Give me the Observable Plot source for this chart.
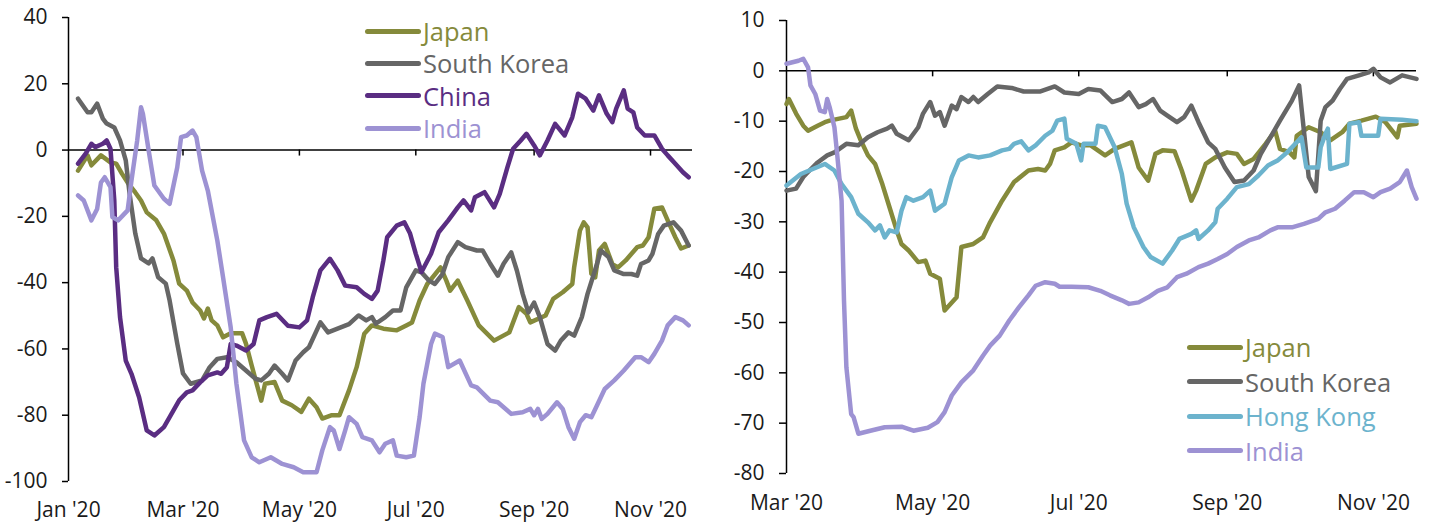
<!DOCTYPE html>
<html><head><meta charset="utf-8">
<script src="https://cdn.jsdelivr.net/npm/d3@7"></script>
<script src="https://cdn.jsdelivr.net/npm/@observablehq/plot@0.6"></script>
<style>
body{margin:0;background:#fff;font-family:"Open Sans",sans-serif;}
#wrap{display:flex;width:1434px;height:526px;overflow:hidden;}
.panel{position:relative;width:717px;height:526px;}
.legend{position:absolute;font-family:"Open Sans",sans-serif;font-size:25.5px;}
.row{display:flex;align-items:center;white-space:nowrap;}
.sw{height:5px;border-radius:3px;margin-right:2px;}
.lab{display:inline-block;overflow:visible;}
</style></head><body>
<div id="wrap"><div class="panel" id="left"></div><div class="panel" id="right"></div></div>
<script>
// ---------- Left panel data ----------
const leftNames = ["Japan", "South Korea", "China", "India"];
const leftColors = ["#858a3b", "#666666", "#5a2d82", "#9d92d3"];
const leftYTicks = [-100, -80, -60, -40, -20, 0, 20, 40];
const leftXTicks = ["2020-01-01", "2020-03-01", "2020-05-01", "2020-07-01", "2020-09-01", "2020-11-01"];

const leftJapan = [["2020-01-06",-6.2],["2020-01-11",-1.6],["2020-01-13",-4.6],["2020-01-18",-1.6],["2020-01-23",-3.7],["2020-01-26",-4.1],["2020-01-29",-7.1],["2020-02-01",-9.8],["2020-02-05",-12.8],["2020-02-08",-15.2],["2020-02-11",-18.8],["2020-02-16",-21.2],["2020-02-20",-25.2],["2020-02-25",-33.3],["2020-02-28",-40.3],["2020-03-03",-42.4],["2020-03-06",-46],["2020-03-10",-48.4],["2020-03-12",-50.8],["2020-03-14",-47.8],["2020-03-16",-51.4],["2020-03-19",-52.9],["2020-03-22",-56.5],["2020-03-26",-55.3],["2020-04-01",-55.3],["2020-04-03",-58.4],["2020-04-06",-65],["2020-04-11",-75.6],["2020-04-13",-70.5],["2020-04-18",-70],["2020-04-22",-75.6],["2020-04-27",-77],["2020-05-02",-79],["2020-05-06",-75],["2020-05-10",-77.6],["2020-05-13",-81],["2020-05-18",-80],["2020-05-22",-80],["2020-05-27",-72.5],["2020-05-31",-65.5],["2020-06-04",-55.4],["2020-06-08",-52.9],["2020-06-14",-53.9],["2020-06-21",-54.4],["2020-06-26",-52.9],["2020-06-29",-52],["2020-07-03",-45.4],["2020-07-07",-40.4],["2020-07-14",-35.4],["2020-07-17",-39.4],["2020-07-19",-42.4],["2020-07-23",-39.4],["2020-07-28",-45.4],["2020-08-03",-52.9],["2020-08-11",-57.5],["2020-08-19",-55],["2020-08-24",-47.4],["2020-08-28",-49.4],["2020-08-30",-52],["2020-09-07",-49.9],["2020-09-11",-44.9],["2020-09-16",-42.9],["2020-09-21",-40.4],["2020-09-22",-35.3],["2020-09-25",-24.3],["2020-09-27",-21.8],["2020-09-29",-23.3],["2020-10-01",-37.3],["2020-10-03",-38.4],["2020-10-05",-30.3],["2020-10-08",-28.3],["2020-10-12",-34.4],["2020-10-15",-35.4],["2020-10-19",-33.3],["2020-10-25",-29.3],["2020-10-28",-28.8],["2020-10-31",-26.3],["2020-11-03",-17.7],["2020-11-07",-17.3],["2020-11-10",-21.2],["2020-11-14",-26.3],["2020-11-17",-29.7],["2020-11-21",-28.8]];

const leftKorea = [["2020-01-06",15.5],["2020-01-11",11.4],["2020-01-13",11.4],["2020-01-16",14],["2020-01-19",9.5],["2020-01-21",8],["2020-01-25",6.8],["2020-01-28",2.9],["2020-01-31",-3.1],["2020-02-02",-13.1],["2020-02-05",-25.2],["2020-02-08",-32.7],["2020-02-12",-34.2],["2020-02-14",-32.7],["2020-02-17",-38.4],["2020-02-21",-40.3],["2020-02-23",-45.4],["2020-02-27",-58.4],["2020-03-01",-67.4],["2020-03-05",-70.5],["2020-03-11",-69.5],["2020-03-15",-65.5],["2020-03-19",-63],["2020-03-24",-62.5],["2020-03-29",-64],["2020-04-03",-66.5],["2020-04-08",-69],["2020-04-11",-69.5],["2020-04-15",-67.5],["2020-04-18",-65],["2020-04-22",-67.5],["2020-04-25",-69.5],["2020-04-29",-63.5],["2020-05-03",-61],["2020-05-06",-59.5],["2020-05-12",-52],["2020-05-16",-55],["2020-05-21",-53.9],["2020-05-27",-52.5],["2020-06-01",-49.9],["2020-06-05",-51.4],["2020-06-08",-50.4],["2020-06-10",-52.4],["2020-06-15",-50.4],["2020-06-19",-48.4],["2020-06-23",-48.4],["2020-06-26",-41.4],["2020-07-01",-36.3],["2020-07-04",-36.9],["2020-07-08",-39.4],["2020-07-11",-40.4],["2020-07-15",-37.4],["2020-07-18",-32.3],["2020-07-23",-27.8],["2020-07-27",-29.3],["2020-08-02",-30.3],["2020-08-05",-30.3],["2020-08-09",-34.3],["2020-08-13",-37.9],["2020-08-16",-34.3],["2020-08-20",-30.9],["2020-08-23",-36.4],["2020-08-26",-43.4],["2020-08-29",-49],["2020-09-01",-46],["2020-09-04",-50.4],["2020-09-08",-58.5],["2020-09-12",-60.5],["2020-09-15",-57.5],["2020-09-19",-55],["2020-09-22",-56],["2020-09-26",-50.4],["2020-09-29",-43.4],["2020-10-04",-34.3],["2020-10-06",-30.3],["2020-10-10",-32.3],["2020-10-13",-36.3],["2020-10-18",-37.4],["2020-10-22",-37.4],["2020-10-25",-37.9],["2020-10-27",-34.4],["2020-10-31",-33.3],["2020-11-02",-31.3],["2020-11-05",-25.3],["2020-11-08",-22.8],["2020-11-13",-21.8],["2020-11-17",-24.3],["2020-11-21",-28.8]];

const leftChina = [["2020-01-06",-4.1],["2020-01-10",-1.1],["2020-01-13",1.9],["2020-01-15",0.9],["2020-01-19",1.9],["2020-01-21",2.9],["2020-01-23",0.4],["2020-01-25",-15.2],["2020-01-26",-35.4],["2020-01-28",-50.4],["2020-01-31",-63.5],["2020-02-03",-67.5],["2020-02-07",-74.6],["2020-02-11",-84.6],["2020-02-15",-86.1],["2020-02-20",-83.6],["2020-02-23",-80.6],["2020-02-28",-75.5],["2020-03-03",-73.1],["2020-03-06",-72.5],["2020-03-10",-70.1],["2020-03-14",-68],["2020-03-19",-67.1],["2020-03-21",-67.5],["2020-03-24",-65.5],["2020-03-26",-58.5],["2020-03-29",-59],["2020-04-03",-60.5],["2020-04-07",-58.5],["2020-04-10",-51.4],["2020-04-14",-50.4],["2020-04-19",-49.4],["2020-04-25",-53],["2020-05-01",-53.5],["2020-05-05",-51.4],["2020-05-08",-44.4],["2020-05-12",-36.3],["2020-05-17",-32.8],["2020-05-21",-36.3],["2020-05-25",-40.9],["2020-05-31",-41.4],["2020-06-04",-43.4],["2020-06-08",-44.9],["2020-06-11",-42.4],["2020-06-14",-33.3],["2020-06-16",-26.3],["2020-06-21",-22.8],["2020-06-25",-21.8],["2020-06-28",-25.2],["2020-07-01",-31.3],["2020-07-04",-36.8],["2020-07-09",-31.3],["2020-07-13",-24.8],["2020-07-18",-21.2],["2020-07-23",-17.3],["2020-07-26",-15.2],["2020-07-30",-18.2],["2020-08-01",-14.2],["2020-08-06",-12.7],["2020-08-11",-17.3],["2020-08-14",-13.2],["2020-08-18",-5.2],["2020-08-21",0.4],["2020-08-25",2.9],["2020-08-28",4.9],["2020-09-01",1.4],["2020-09-04",-1.6],["2020-09-08",2.9],["2020-09-12",7.9],["2020-09-17",4.4],["2020-09-21",9.9],["2020-09-24",17],["2020-09-28",15.5],["2020-10-02",11.9],["2020-10-05",16.5],["2020-10-09",11],["2020-10-12",8.4],["2020-10-14",12.5],["2020-10-18",18],["2020-10-20",12.5],["2020-10-23",11.4],["2020-10-25",6.8],["2020-10-29",4.4],["2020-11-03",4.4],["2020-11-07",0.4],["2020-11-10",-1.6],["2020-11-14",-4.1],["2020-11-18",-6.7],["2020-11-21",-8.2]];

const leftIndia = [["2020-01-06",-13.7],["2020-01-09",-15.2],["2020-01-13",-21.2],["2020-01-16",-17.8],["2020-01-18",-9.8],["2020-01-20",-8.2],["2020-01-23",-11.2],["2020-01-24",-20.2],["2020-01-27",-21.2],["2020-02-01",-18.2],["2020-02-03",-9.2],["2020-02-06",2.9],["2020-02-08",12.9],["2020-02-09",10.9],["2020-02-12",-0.1],["2020-02-15",-10.7],["2020-02-20",-14.7],["2020-02-23",-16.2],["2020-02-27",-5.2],["2020-02-29",3.9],["2020-03-03",4.4],["2020-03-06",5.9],["2020-03-08",3.9],["2020-03-11",-6.2],["2020-03-14",-12.2],["2020-03-19",-27.3],["2020-03-22",-38.4],["2020-03-26",-53.5],["2020-03-29",-70.5],["2020-04-02",-87.6],["2020-04-06",-92.7],["2020-04-10",-94.2],["2020-04-16",-92.7],["2020-04-22",-94.7],["2020-04-28",-95.7],["2020-05-03",-97.2],["2020-05-10",-97.2],["2020-05-13",-90.6],["2020-05-17",-83.6],["2020-05-19",-84.6],["2020-05-22",-90.2],["2020-05-25",-84.6],["2020-05-27",-80.6],["2020-05-31",-82.6],["2020-06-03",-86.6],["2020-06-08",-87.6],["2020-06-12",-91.2],["2020-06-15",-88.6],["2020-06-19",-87.6],["2020-06-21",-92.2],["2020-06-26",-92.7],["2020-06-30",-92.2],["2020-07-03",-80.6],["2020-07-05",-70.5],["2020-07-09",-58.5],["2020-07-11",-55.4],["2020-07-15",-56.4],["2020-07-18",-65.5],["2020-07-24",-63.5],["2020-07-30",-71],["2020-08-02",-71.6],["2020-08-09",-75.6],["2020-08-13",-76.1],["2020-08-20",-79.6],["2020-08-26",-79.1],["2020-08-30",-78.1],["2020-09-01",-80],["2020-09-03",-78.1],["2020-09-05",-81.1],["2020-09-08",-79.6],["2020-09-13",-76.1],["2020-09-16",-78.1],["2020-09-19",-83.6],["2020-09-22",-87.1],["2020-09-25",-82.1],["2020-09-28",-80],["2020-10-01",-80.6],["2020-10-04",-77],["2020-10-08",-72.1],["2020-10-13",-69.5],["2020-10-18",-66.5],["2020-10-24",-62.5],["2020-10-27",-62.5],["2020-10-31",-64],["2020-11-03",-61.5],["2020-11-07",-57.5],["2020-11-10",-52.9],["2020-11-14",-50.4],["2020-11-18",-51.4],["2020-11-21",-52.9]];

// ---------- Right panel data ----------
const rightNames = ["Japan", "South Korea", "Hong Kong", "India"];
const rightColors = ["#858a3b", "#666666", "#6cb3cd", "#9d92d3"];
const rightYTicks = [-80, -70, -60, -50, -40, -30, -20, -10, 0, 10];
const rightXTicks = ["2020-03-01", "2020-05-01", "2020-07-01", "2020-09-01", "2020-11-01"];

const rightJapan = [["2020-03-01",-6.6],["2020-03-02",-5.6],["2020-03-05",-8.5],["2020-03-08",-10.9],["2020-03-10",-11.9],["2020-03-14",-10.9],["2020-03-17",-10.2],["2020-03-19",-9.9],["2020-03-23",-9.5],["2020-03-26",-9.2],["2020-03-28",-7.9],["2020-03-30",-11.5],["2020-04-01",-13.8],["2020-04-04",-16.8],["2020-04-07",-18.5],["2020-04-10",-22.5],["2020-04-13",-27.1],["2020-04-16",-31.7],["2020-04-18",-34.4],["2020-04-21",-35.7],["2020-04-25",-38],["2020-04-28",-37.7],["2020-04-30",-40.3],["2020-05-04",-41.3],["2020-05-06",-47.6],["2020-05-11",-45],["2020-05-13",-35],["2020-05-18",-34.4],["2020-05-22",-33.1],["2020-05-25",-30.1],["2020-05-30",-25.8],["2020-06-04",-22.1],["2020-06-10",-19.8],["2020-06-14",-19.5],["2020-06-17",-19.8],["2020-06-19",-18.5],["2020-06-21",-15.8],["2020-06-25",-15.2],["2020-06-28",-14.2],["2020-07-02",-14.8],["2020-07-06",-14.8],["2020-07-12",-16.8],["2020-07-16",-15.5],["2020-07-23",-14.2],["2020-07-26",-19.2],["2020-07-30",-21.8],["2020-08-02",-16.5],["2020-08-05",-15.8],["2020-08-10",-16],["2020-08-13",-19.8],["2020-08-17",-25.8],["2020-08-19",-23.8],["2020-08-23",-18.5],["2020-08-27",-17.2],["2020-09-01",-16.2],["2020-09-05",-16.5],["2020-09-08",-18.5],["2020-09-12",-17.5],["2020-09-17",-14.5],["2020-09-21",-11.9],["2020-09-23",-15.5],["2020-09-27",-16.2],["2020-09-29",-17.2],["2020-09-30",-12.9],["2020-10-05",-11.2],["2020-10-10",-12.2],["2020-10-14",-13.8],["2020-10-19",-12.2],["2020-10-22",-10.5],["2020-10-27",-9.9],["2020-11-02",-9.1],["2020-11-06",-10.2],["2020-11-11",-13.2],["2020-11-12",-10.9],["2020-11-19",-10.5]];

const rightKorea = [["2020-03-01",-23.8],["2020-03-05",-23.4],["2020-03-08",-21.1],["2020-03-10",-20.1],["2020-03-14",-18.2],["2020-03-18",-16.8],["2020-03-21",-16.2],["2020-03-26",-14.5],["2020-03-31",-14.8],["2020-04-04",-13.2],["2020-04-08",-12.2],["2020-04-12",-11.5],["2020-04-14",-10.9],["2020-04-16",-12.5],["2020-04-21",-13.8],["2020-04-25",-11.2],["2020-04-27",-8.5],["2020-04-30",-6.2],["2020-05-02",-8.9],["2020-05-04",-8.2],["2020-05-06",-10.9],["2020-05-09",-6.9],["2020-05-11",-7.6],["2020-05-13",-5.2],["2020-05-16",-6.2],["2020-05-18",-5.2],["2020-05-20",-6.2],["2020-05-24",-4.6],["2020-05-28",-3.1],["2020-06-03",-3.4],["2020-06-08",-4.1],["2020-06-15",-4.1],["2020-06-21",-3.1],["2020-06-25",-4.3],["2020-07-01",-4.6],["2020-07-05",-3.6],["2020-07-10",-3.9],["2020-07-15",-6.2],["2020-07-19",-5.6],["2020-07-22",-4.3],["2020-07-26",-7.2],["2020-07-29",-6.6],["2020-08-01",-5.6],["2020-08-04",-7.9],["2020-08-07",-8.9],["2020-08-11",-10.2],["2020-08-14",-9.2],["2020-08-17",-6.9],["2020-08-20",-10.2],["2020-08-24",-14.2],["2020-08-27",-15.5],["2020-08-31",-19.2],["2020-09-04",-22.1],["2020-09-08",-21.8],["2020-09-12",-19.8],["2020-09-15",-16.5],["2020-09-19",-13.2],["2020-09-23",-9.9],["2020-09-28",-5.9],["2020-10-01",-2.9],["2020-10-03",-11.9],["2020-10-05",-21.1],["2020-10-08",-23.9],["2020-10-10",-9.9],["2020-10-12",-7.2],["2020-10-15",-5.9],["2020-10-18",-3.6],["2020-10-21",-1.6],["2020-10-26",-0.9],["2020-10-30",-0.3],["2020-11-01",0.4],["2020-11-04",-1.3],["2020-11-08",-2.3],["2020-11-13",-0.9],["2020-11-19",-1.6]];

const rightHongKong = [["2020-03-01",-22.8],["2020-03-07",-20.5],["2020-03-12",-19.5],["2020-03-17",-18.5],["2020-03-21",-19.8],["2020-03-24",-22.5],["2020-03-28",-25.1],["2020-03-31",-28.4],["2020-04-04",-30.1],["2020-04-07",-31.7],["2020-04-09",-30.7],["2020-04-11",-33.1],["2020-04-13",-31.7],["2020-04-16",-32.1],["2020-04-18",-27.8],["2020-04-20",-25.1],["2020-04-23",-25.8],["2020-04-27",-25.1],["2020-04-30",-23.8],["2020-05-02",-27.8],["2020-05-06",-26.4],["2020-05-09",-21.1],["2020-05-12",-17.8],["2020-05-16",-16.8],["2020-05-20",-17.2],["2020-05-25",-16.8],["2020-05-30",-15.8],["2020-06-02",-15.5],["2020-06-04",-14.5],["2020-06-07",-14],["2020-06-10",-15.8],["2020-06-13",-14.8],["2020-06-17",-12.9],["2020-06-20",-11.9],["2020-06-22",-9.9],["2020-06-25",-9.5],["2020-06-26",-13.5],["2020-06-30",-14.5],["2020-07-02",-17.8],["2020-07-03",-14.5],["2020-07-08",-14.5],["2020-07-09",-10.9],["2020-07-12",-11.2],["2020-07-16",-15.2],["2020-07-19",-20.5],["2020-07-21",-26.4],["2020-07-24",-31.1],["2020-07-28",-35],["2020-07-31",-37],["2020-08-05",-38.3],["2020-08-09",-35.7],["2020-08-12",-33.4],["2020-08-17",-32.4],["2020-08-19",-31.7],["2020-08-20",-33.4],["2020-08-24",-31.7],["2020-08-27",-30.1],["2020-08-28",-27.4],["2020-09-01",-25.4],["2020-09-05",-23.1],["2020-09-10",-22.5],["2020-09-14",-20.8],["2020-09-18",-18.8],["2020-09-22",-17.8],["2020-09-26",-16.2],["2020-09-30",-14.2],["2020-10-02",-13.2],["2020-10-04",-19.2],["2020-10-09",-19.2],["2020-10-10",-15.2],["2020-10-12",-12.5],["2020-10-13",-11.5],["2020-10-14",-19.5],["2020-10-21",-18.5],["2020-10-22",-10.5],["2020-10-26",-10.2],["2020-10-27",-12.9],["2020-11-03",-12.9],["2020-11-04",-9.5],["2020-11-13",-9.7],["2020-11-19",-10]];

const rightIndia = [["2020-03-01",1.4],["2020-03-06",2],["2020-03-08",2.4],["2020-03-10",0.7],["2020-03-11",-2.9],["2020-03-13",-4.6],["2020-03-15",-7.9],["2020-03-17",-8.2],["2020-03-18",-5.6],["2020-03-19",-7.2],["2020-03-21",-11.2],["2020-03-22",-15.8],["2020-03-24",-25.8],["2020-03-25",-45.6],["2020-03-26",-58.9],["2020-03-28",-68.2],["2020-03-29",-68.8],["2020-03-31",-72.1],["2020-04-05",-71.5],["2020-04-11",-70.8],["2020-04-18",-70.7],["2020-04-23",-71.5],["2020-04-29",-70.9],["2020-05-03",-69.8],["2020-05-06",-67.8],["2020-05-09",-64.5],["2020-05-13",-61.9],["2020-05-18",-59.5],["2020-05-22",-56.6],["2020-05-25",-54.6],["2020-05-29",-52.6],["2020-06-02",-49.6],["2020-06-06",-47],["2020-06-10",-44.6],["2020-06-13",-42.7],["2020-06-17",-42],["2020-06-21",-42.3],["2020-06-23",-42.9],["2020-06-28",-42.9],["2020-07-05",-43],["2020-07-10",-43.7],["2020-07-14",-44.6],["2020-07-19",-45.6],["2020-07-22",-46.3],["2020-07-26",-46],["2020-07-30",-45],["2020-08-03",-43.7],["2020-08-07",-43],["2020-08-11",-41],["2020-08-15",-40.3],["2020-08-20",-39],["2020-08-24",-38.3],["2020-08-28",-37.4],["2020-09-01",-36.4],["2020-09-05",-35],["2020-09-10",-33.7],["2020-09-14",-33.1],["2020-09-19",-31.7],["2020-09-22",-31.1],["2020-09-28",-31.1],["2020-10-03",-30.4],["2020-10-09",-29.4],["2020-10-12",-28.1],["2020-10-16",-27.4],["2020-10-20",-25.8],["2020-10-24",-24.1],["2020-10-28",-24.1],["2020-11-01",-25.1],["2020-11-04",-24.1],["2020-11-08",-23.4],["2020-11-12",-22.1],["2020-11-15",-19.8],["2020-11-17",-23.1],["2020-11-19",-25.4]];

// ---------- drawing ----------
const fmt = d3.utcFormat("%b '%y");

function rows(names, seriesList) {
  return seriesList.flatMap((s, i) => s.map(([d, v]) => ({date: new Date(d), value: v, name: names[i]})));
}

function makePanel(cfg) {
  const data = rows(cfg.names, cfg.series);
  const xt = cfg.xTicks.map(d => new Date(d));
  return Plot.plot({
    width: 717, height: 526,
    marginLeft: cfg.ml, marginRight: cfg.mr, marginTop: cfg.mt, marginBottom: cfg.mb,
    style: {fontFamily: "'Open Sans', sans-serif", fontSize: "21px", color: "#1a1a1a", background: "transparent", overflow: "visible"},
    x: {type: "utc", domain: cfg.xDomain.map(d => new Date(d)), label: null},
    y: {domain: cfg.yDomain, label: null},
    color: {domain: cfg.names, range: cfg.colors},
    marks: [
      Plot.axisY({ticks: cfg.yTicks, tickSize: cfg.yTickSize, tickPadding: 15, tickFormat: d => String(d), label: null, strokeWidth: 1.5, stroke: "#000"}),
      Plot.axisX({ticks: xt, tickSize: 0, tickPadding: cfg.xPad, tickFormat: fmt, label: null}),
      Plot.ruleX([new Date(cfg.xDomain[0])], {stroke: "#000", strokeWidth: 1.5}),
      Plot.ruleY([0], {stroke: "#000", strokeWidth: 1.5}),
      Plot.ruleX(xt.slice(1), {x: d => d, y1: () => 0, y2: () => 0, insetBottom: -6, stroke: "#000", strokeWidth: 1.5}),
      Plot.line(data, {x: "date", y: "value", z: "name", stroke: "name", strokeWidth: 4.5, strokeLinejoin: "round", strokeLinecap: "round"})
    ]
  });
}

function legend(names, colors, left, top, rowH) {
  const div = document.createElement("div");
  div.className = "legend";
  div.style.left = left + "px";
  div.style.top = top + "px";
  names.forEach((n, i) => {
    const r = document.createElement("div");
    r.className = "row";
    r.style.height = rowH + "px";
    const sw = document.createElement("div");
    sw.className = "sw";
    sw.style.width = "56px";
    sw.style.background = colors[i];
    const t = document.createElement("span");
    t.className = "lab";
    t.textContent = n;
    t.style.color = colors[i];
    t.style.lineHeight = rowH + "px";
    t.style.height = rowH + "px";
    r.appendChild(sw); r.appendChild(t);
    div.appendChild(r);
  });
  return div;
}

const L = document.getElementById("left");
L.appendChild(makePanel({
  names: leftNames, colors: leftColors, series: [leftJapan, leftKorea, leftChina, leftIndia],
  xDomain: ["2020-01-01", "2020-11-23"], yDomain: [-100, 40], yTicks: leftYTicks, xTicks: leftXTicks,
  ml: 68, mr: 25, mt: 17, mb: 45, yTickSize: 6, xPad: 21
}));
L.appendChild(legend(leftNames, leftColors, 365, 15, 32.4));

const R = document.getElementById("right");
R.appendChild(makePanel({
  names: rightNames, colors: rightColors, series: [rightJapan, rightKorea, rightHongKong, rightIndia],
  xDomain: ["2020-03-01", "2020-11-19"], yDomain: [-80, 10], yTicks: rightYTicks, xTicks: rightXTicks,
  ml: 69, mr: 18, mt: 20, mb: 53, yTickSize: 7, xPad: 22
}));
R.appendChild(legend(rightNames, rightColors, 470, 330, 34.5));
</script>
</body></html>
